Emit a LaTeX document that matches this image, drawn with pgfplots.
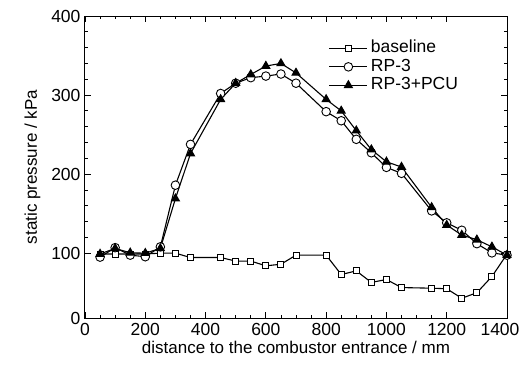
\documentclass[border=0pt]{standalone}
\usepackage{pgfplots}
\pgfplotsset{compat=1.18}
\usepackage{fontspec}
\setmainfont{Liberation Sans}
\begin{document}
\begin{tikzpicture}
\useasboundingbox (-85pt,-52pt) rectangle (437pt,318pt);
\begin{axis}[
  at={(0pt,0pt)}, anchor=south west,
  scale only axis,
  width=422pt, height=302pt,
  xmin=0, xmax=1400, ymin=18, ymax=400,
  xtick={0,200,...,1200},
  extra x ticks={1400},
  extra x tick style={xticklabel style={xshift=-7pt}},
  ytick={100,200,300,400},
  extra y ticks={18}, extra y tick labels={0},
  extra y tick style={major tick length=0pt},
  minor x tick num=3, minor y tick num=4,
  tick align=inside,
  major tick length=6pt, minor tick length=3pt,
  tick style={black, line width=0.8pt},
  axis line style={line width=1pt},
  /pgf/number format/assume math mode=true,
  /pgf/number format/1000 sep={},
  ticklabel style={font=\fontsize{17.5}{20}\selectfont},
  xticklabel style={yshift=-1.5pt},
  yticklabel style={xshift=-1pt},
  label style={font=\fontsize{17}{20}\selectfont},
  xlabel={distance to the combustor entrance / mm},
  ylabel={static pressure / kPa},
  xlabel style={yshift=1pt},
  ylabel style={yshift=4pt},
  legend style={at={(0.575,0.93)}, anchor=north west, draw=none, fill=none,
    font=\fontsize{17.5}{20}\selectfont, row sep=-1.5pt, inner sep=1pt,
    nodes={text height=12.5pt, text depth=3.5pt, inner ysep=2pt, inner xsep=3pt}},
  legend cell align=left,
  legend image code/.code={\draw[#1] (0pt,0pt) -- (38pt,0pt); \draw[#1, only marks] plot coordinates {(19pt,0pt)};},
]
\addplot[black, line width=1.1pt, mark=square*, mark size=3pt, mark options={fill=white, line width=0.9pt}] coordinates {
(50,99) (100,99) (150,99) (200,99) (250,100) (300,100) (350,94.5) (450,94.5)
(500,90) (550,90) (600,84) (650,86) (700,97.5) (800,97.5) (850,73) (900,77.6)
(950,63) (1000,66.7) (1050,56.5) (1150,55.7) (1200,55) (1250,43) (1300,50)
(1350,70.5) (1400,98.7)};
\addlegendentry{baseline}
\addplot[black, line width=1.1pt, mark=*, mark size=4.3pt, mark options={fill=white, line width=0.9pt}] coordinates {
(50,95) (100,107) (150,97.5) (200,95.5) (250,108) (300,186) (350,237.6) (450,302)
(500,315) (550,322) (600,324) (650,326.6) (700,315) (800,279) (850,267.5) (900,244)
(950,227) (1000,208.5) (1050,201) (1150,153.5) (1200,138.4) (1250,129) (1300,112)
(1350,100.4) (1400,97.5)};
\addlegendentry{RP-3}
\addplot[black, line width=1.1pt, mark=triangle*, mark size=4.5pt, mark options={fill=black}] coordinates {
(50,99) (100,106) (150,100.5) (200,100) (250,106) (300,169) (350,226) (450,294.5)
(500,315) (550,326) (600,336.7) (650,340) (700,328) (800,294.5) (850,280) (900,255)
(950,231) (1000,215.6) (1050,209) (1150,158) (1200,135.5) (1250,123) (1300,117)
(1350,108) (1400,97.5)};
\addlegendentry{RP-3+PCU}
\end{axis}
\end{tikzpicture}
\end{document}
